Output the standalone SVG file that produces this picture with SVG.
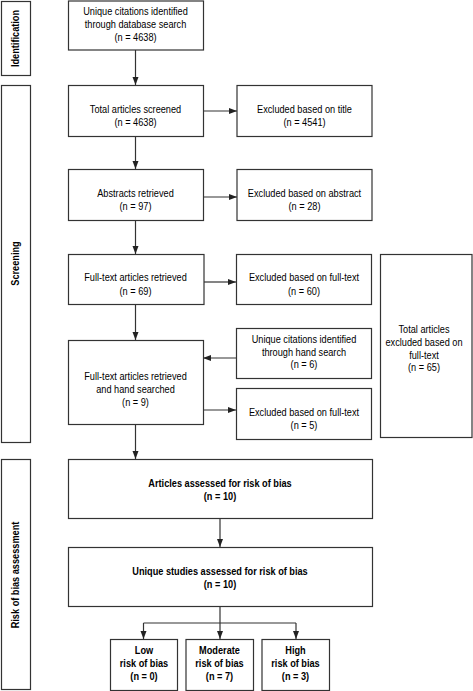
<svg xmlns="http://www.w3.org/2000/svg" width="473" height="691" viewBox="0 0 473 691">
<style>
.b{fill:#fff;stroke:#333;stroke-width:1.2}
.c{fill:none;stroke:#333;stroke-width:1.2}
text{font-family:"Liberation Sans",Arial,sans-serif;font-size:11px;fill:#000;text-anchor:middle}
.bd{font-weight:bold}
</style>
<defs>
<marker id="ah" viewBox="0 0 8 8" refX="8" refY="4" markerWidth="8" markerHeight="8" markerUnits="userSpaceOnUse" orient="auto">
<path d="M0,1 L8,4 L0,7 Z" fill="#222"/>
</marker>
</defs>
<rect width="473" height="691" fill="#fff"/>

<g id="sec-identification">
<rect class="b" x="1.5" y="1.5" width="29" height="74"/>
<text class="bd" transform="translate(19,38.5) rotate(-90) scale(0.835,1)">Identification</text>
</g>
<g id="sec-screening">
<rect class="b" x="1.5" y="85.5" width="29" height="357"/>
<text class="bd" transform="translate(19,263.5) rotate(-90) scale(0.835,1)">Screening</text>
</g>
<g id="sec-risk">
<rect class="b" x="1.5" y="459.5" width="29" height="230"/>
<text class="bd" transform="translate(19,575) rotate(-90) scale(0.835,1)">Risk of bias assessment</text>
</g>

<g id="connectors">
<line class="c" x1="135.5" y1="50" x2="135.5" y2="85" marker-end="url(#ah)"/>
<line class="c" x1="135.5" y1="136" x2="135.5" y2="169" marker-end="url(#ah)"/>
<line class="c" x1="135.5" y1="220" x2="135.5" y2="254" marker-end="url(#ah)"/>
<line class="c" x1="135.5" y1="304" x2="135.5" y2="340" marker-end="url(#ah)"/>
<line class="c" x1="135.5" y1="424" x2="135.5" y2="459" marker-end="url(#ah)"/>
<line class="c" x1="203" y1="111" x2="237" y2="111" marker-end="url(#ah)"/>
<line class="c" x1="203" y1="197" x2="237" y2="197" marker-end="url(#ah)"/>
<line class="c" x1="204" y1="282" x2="236" y2="282" marker-end="url(#ah)"/>
<line class="c" x1="236" y1="358" x2="203" y2="358" marker-end="url(#ah)"/>
<line class="c" x1="203" y1="410" x2="236" y2="410" marker-end="url(#ah)"/>
<line class="c" x1="220" y1="518" x2="220" y2="547" marker-end="url(#ah)"/>
<polyline class="c" points="220,606 220,623"/>
<polyline class="c" points="143.5,623 296,623"/>
<line class="c" x1="143.5" y1="623" x2="143.5" y2="639" marker-end="url(#ah)"/>
<line class="c" x1="220" y1="623" x2="220" y2="639" marker-end="url(#ah)"/>
<line class="c" x1="296" y1="623" x2="296" y2="639" marker-end="url(#ah)"/>
</g>

<g id="n-db">
<rect class="b" x="68.5" y="1" width="135" height="49"/>
<text transform="translate(135.5,15) scale(0.835,1)">Unique citations identified</text>
<text transform="translate(135.5,28) scale(0.835,1)">through database search</text>
<text transform="translate(135.5,41) scale(0.835,1)">(n = 4638)</text>
</g>
<g id="n-screened">
<rect class="b" x="68.5" y="85.5" width="135" height="51"/>
<text transform="translate(135.5,113) scale(0.835,1)">Total articles screened</text>
<text transform="translate(135.5,126) scale(0.835,1)">(n = 4638)</text>
</g>
<g id="n-abstracts">
<rect class="b" x="68.5" y="169.5" width="135" height="51"/>
<text transform="translate(135.5,197) scale(0.835,1)">Abstracts retrieved</text>
<text transform="translate(135.5,210) scale(0.835,1)">(n = 97)</text>
</g>
<g id="n-fulltext">
<rect class="b" x="68.5" y="254.5" width="135.5" height="50"/>
<text transform="translate(135.5,281) scale(0.835,1)">Full-text articles retrieved</text>
<text transform="translate(135.5,295) scale(0.835,1)">(n = 69)</text>
</g>
<g id="n-handsearched">
<rect class="b" x="68.5" y="340.5" width="135" height="84"/>
<text transform="translate(135.5,380) scale(0.835,1)">Full-text articles retrieved</text>
<text transform="translate(135.5,393) scale(0.835,1)">and hand searched</text>
<text transform="translate(135.5,406) scale(0.835,1)">(n = 9)</text>
</g>

<g id="x-title">
<rect class="b" x="237" y="85.5" width="135" height="51"/>
<text transform="translate(304.5,113) scale(0.835,1)">Excluded based on title</text>
<text transform="translate(304.5,126) scale(0.835,1)">(n = 4541)</text>
</g>
<g id="x-abstract">
<rect class="b" x="237" y="169.5" width="135" height="51"/>
<text transform="translate(304.5,197) scale(0.835,1)">Excluded based on abstract</text>
<text transform="translate(304.5,210) scale(0.835,1)">(n = 28)</text>
</g>
<g id="x-fulltext60">
<rect class="b" x="236.5" y="254.5" width="135" height="50"/>
<text transform="translate(304,281) scale(0.835,1)">Excluded based on full-text</text>
<text transform="translate(304,295) scale(0.835,1)">(n = 60)</text>
</g>
<g id="n-hand">
<rect class="b" x="236.5" y="328.5" width="135" height="50"/>
<text transform="translate(304,343) scale(0.835,1)">Unique citations identified</text>
<text transform="translate(304,355.5) scale(0.835,1)">through hand search</text>
<text transform="translate(304,368) scale(0.835,1)">(n = 6)</text>
</g>
<g id="x-fulltext5">
<rect class="b" x="236.5" y="388.5" width="135" height="51"/>
<text transform="translate(304,416) scale(0.835,1)">Excluded based on full-text</text>
<text transform="translate(304,429) scale(0.835,1)">(n = 5)</text>
</g>
<g id="x-total">
<rect class="b" x="380.5" y="254.5" width="91.5" height="183"/>
<text transform="translate(424,333) scale(0.835,1)">Total articles</text>
<text transform="translate(424,346) scale(0.835,1)">excluded based on</text>
<text transform="translate(424,358.5) scale(0.835,1)">full-text</text>
<text transform="translate(424,371) scale(0.835,1)">(n = 65)</text>
</g>

<g id="n-assessed">
<rect class="b" x="68.5" y="459.5" width="304" height="59"/>
<text class="bd" transform="translate(220,487) scale(0.835,1)">Articles assessed for risk of bias</text>
<text class="bd" transform="translate(220,500) scale(0.835,1)">(n = 10)</text>
</g>
<g id="n-unique">
<rect class="b" x="68.5" y="547.5" width="304" height="59"/>
<text class="bd" transform="translate(220,575) scale(0.835,1)">Unique studies assessed for risk of bias</text>
<text class="bd" transform="translate(220,588) scale(0.835,1)">(n = 10)</text>
</g>
<g id="n-low">
<rect class="b" x="110.5" y="639.5" width="67" height="51"/>
<text class="bd" transform="translate(144,654) scale(0.835,1)">Low</text>
<text class="bd" transform="translate(144,667) scale(0.835,1)">risk of bias</text>
<text class="bd" transform="translate(144,680) scale(0.835,1)">(n = 0)</text>
</g>
<g id="n-moderate">
<rect class="b" x="186" y="639.5" width="67.5" height="51"/>
<text class="bd" transform="translate(219.5,654) scale(0.835,1)">Moderate</text>
<text class="bd" transform="translate(219.5,667) scale(0.835,1)">risk of bias</text>
<text class="bd" transform="translate(219.5,680) scale(0.835,1)">(n = 7)</text>
</g>
<g id="n-high">
<rect class="b" x="262" y="639.5" width="67.5" height="51"/>
<text class="bd" transform="translate(295.5,654) scale(0.835,1)">High</text>
<text class="bd" transform="translate(295.5,667) scale(0.835,1)">risk of bias</text>
<text class="bd" transform="translate(295.5,680) scale(0.835,1)">(n = 3)</text>
</g>
</svg>
